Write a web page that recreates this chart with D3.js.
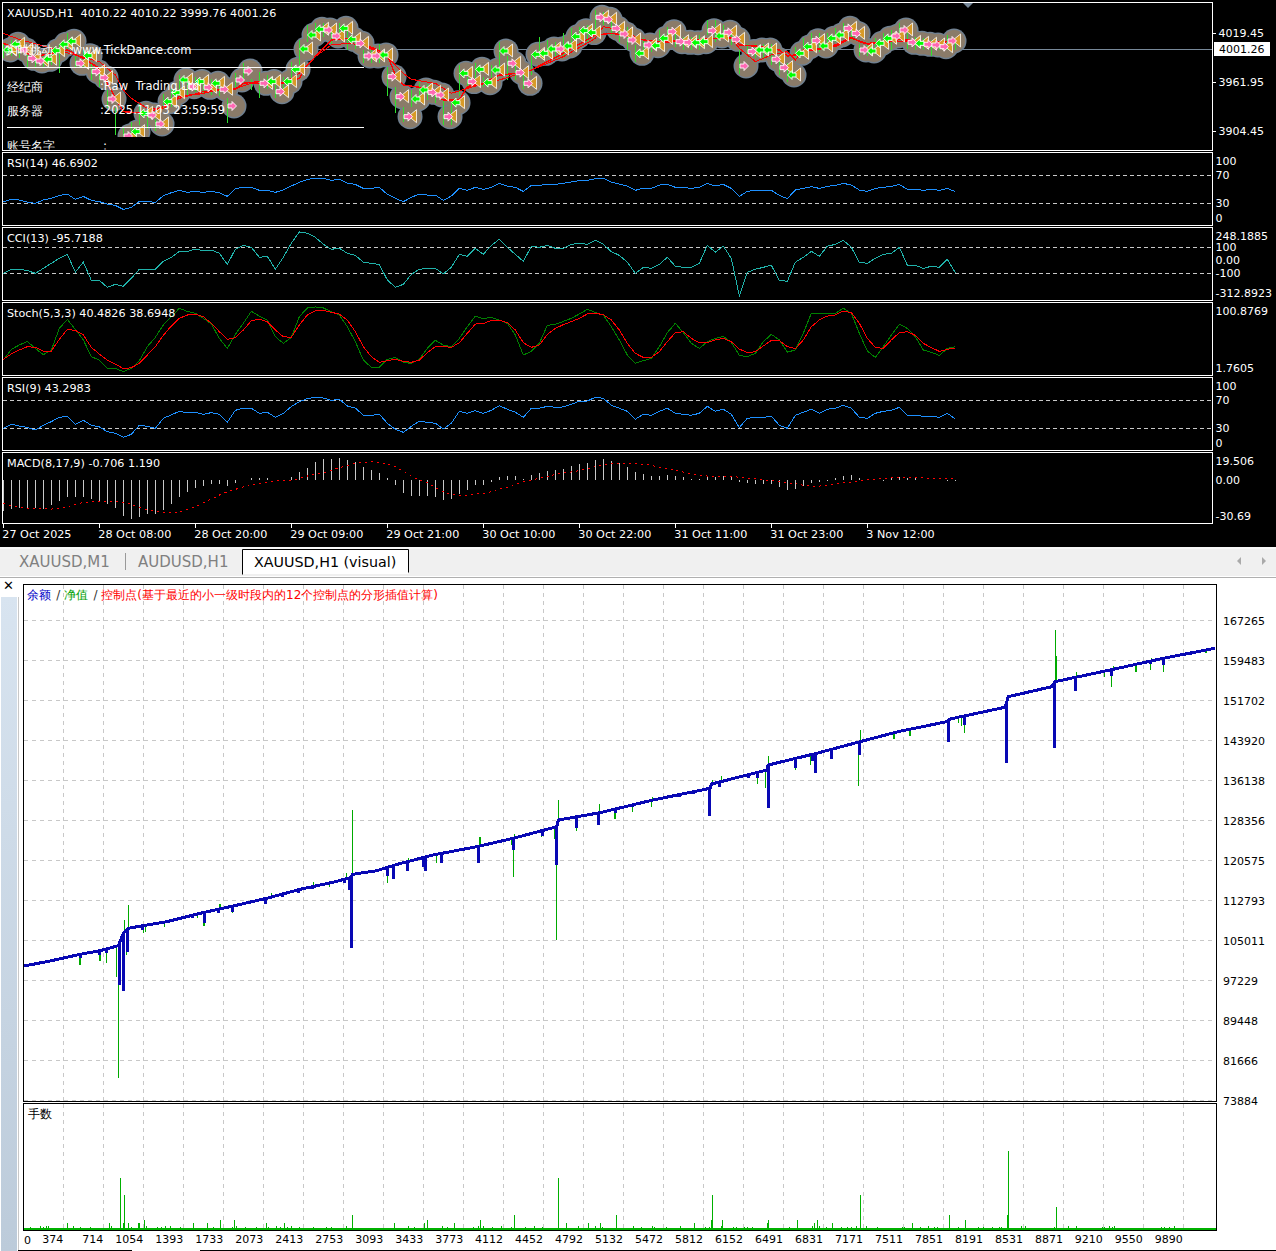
<!DOCTYPE html>
<html><head><meta charset="utf-8">
<script src="https://cdn.jsdelivr.net/npm/d3@7/dist/d3.min.js"></script>
<style>html,body{margin:0;padding:0;background:#fff;overflow:hidden}svg{display:block}
text{font-family:"DejaVu Sans",sans-serif;white-space:pre}</style></head><body>
<svg id="c" width="1276" height="1251"></svg>
<script>
// ---------- upper chart data ----------
const markerType="ggpppggggpgppp-pggppgggpgpgpppp-pgpgggggppggpppgpppggpppggpggggpppgggpggggpppppgpggpppggpgppppggppgggpgggpppgggpppgpp-";
const markerPrice=[3999.5,4006.2,3999.5,3989.7,3986.6,3988.6,3998.7,4006.2,4009.7,3983.9,3992.9,3974.1,3967,3942,null,3898.6,3903.7,3925.2,3923.2,3912.7,3938.9,3949.4,3964.3,3956.5,3962.4,3955.7,3960.4,3953.4,3933.8,3964.3,3974.9,null,3960.4,3962.4,3950.6,3962.4,3976.8,4000.7,4017.1,4023.8,4023,4015.9,4024.9,4012,4007.3,3992.5,3992.5,3993.7,3968.2,3944.7,3921.3,3942,3952.6,3949.8,3946.7,3921.3,3937.7,3972.1,3962.4,3976.8,3961.2,3976,3998.3,3983.9,3972.9,3960.4,3994.4,3995.6,4000.7,4000.7,4004.2,4015.2,4022.2,4019.9,4037.9,4035.5,4024.9,4018.3,4011.3,3995.6,4005.4,4004.6,4013.2,4021,4009.3,4008.5,4008.1,4009.3,4022.2,4015.9,4020.3,4012,3980.7,3997.6,3999.5,3999.5,3988.6,3978.8,3970.2,3995.6,4003.4,4010.5,4004.2,4013.2,4017.1,4024.9,4019,3999.5,3998.3,4007.3,4013.2,4015.9,4023,4008.5,4007.3,4006.2,4005.4,4003.4,4010.1,null];
const noTriangle=[28,29,30,92];
const wickHigh=[4007,4011,4003,3994,3992,3994,4003,4007,4020,3994,3999,3984,3974,3952,3931,3909,3915,3937,3931,3919,3948,3954,3970,3964,3968,3964,3966,3960,3943,3972,3984,3966,3974,3970,3958,3968,3986,4011,4029,4031,4031,4023,4031,4023,4015,3999,3999,4007,3980,3956,3933,3952,3962,3960,3954,3941,3939,3982,3968,3984,3968,3982,4009,3992,3984,3974,3995,4015,4011,4009,4019,4025,4027,4029,4046,4044,4033,4029,4027,4005,4013,4011,4023,4027,4019,4015,4015,4017,4035,4035,4029,4021,4000,4007,4007,4007,4007,3993,3984,4003,4013,4019,4019,4019,4025,4031,4025,4007,4007,4013,4019,4023,4031,4019,4015,4013,4011,4009,4017,4010.22];
const wickLow=[3990,3992,3990,3980,3978,3980,3982,3973,3999,3978,3978,3964,3956,3931,3900,3898,3898,3911,3907,3904,3931,3933,3945,3947,3950,3949,3947,3945,3914,3956,3964,3952,3943,3954,3943,3949,3966,3982,4009,4015,4015,4007,4019,4000,4001,3984,3984,3984,3945,3925,3915,3933,3939,3941,3937,3911,3911,3945,3956,3964,3956,3964,3976,3964,3964,3954,3970,3990,3993,3993,3993,4007,4013,4009,4023,4029,4017,4009,4000,3986,3993,3997,4005,4013,4003,3999,3999,4000,4017,4009,4015,4005,3971,3993,3990,3990,3982,3970,3962,3990,3995,4003,3997,4007,4009,4015,4011,3993,3992,3999,4005,4000,4015,4001,3999,3999,3993,3999,3999,3999.76];
const thickBars=[0,4,8,10,12,13,15,17,18,20,22,25,27,29,30,32,35,37,38,40,41,43,45,48,49,50,53,55,57,58,60,62,65,66,70,74,76,77,80,82,89,91,92,95,97,98,99,100,102,104,106,107,108,110,112,114,116,118];
const thickPrice=[4007.3,3991.7,3999.5,3989.7,3978,3960.4,3927.1,3926,3926,3933,3944.8,3948.7,3953.4,3953.4,3960.4,3962.4,3961.2,3966.3,3981.9,4001.5,4011.3,4013.2,4007.3,3993.7,3970.2,3958.4,3954.5,3940.8,3940.8,3956.5,3960.4,3970,3972.9,3976,3995.6,4017.1,4019,4017.9,4011.3,4009.3,4013.2,4014.4,4005.4,4003.4,3999.5,3992.5,3993.7,3997.6,4000.3,4005.4,4014.4,4009.3,4006.6,4007.3,4012,4010.5,4007.3,4009.3];
const thinBars=[0,2,6,12,14,15,16,18,20,22,25,29,31,35,37,39,41,43,45,48,50,51,54,56,58,60,62,66,70,74,75,76,78,80,83,88,91,92,94,96,98,99,100,104,106,108,110,114,118];
const thinPrice=[4019,4012,4001.5,3985.8,3970.2,3952.6,3942.8,3931,3931,3942.8,3950.6,3954.5,3960.4,3960.4,3972.1,3991.7,4005.4,4007.3,4005.4,3991.7,3972.1,3965.1,3960.4,3948.7,3954.5,3959.6,3964.3,3976,3991.7,4013.2,4026.9,4024.9,4019,4011.3,4008.1,4013.2,4013.2,4001.5,3985.8,3993.7,3997.6,3987.8,3999.5,4003.4,4013.2,4007.3,4009.3,4009.3,4009.3];
const rsi14=[32.3,35.6,34.7,31.8,29.9,34.7,37.1,41.3,43.2,35.6,39.9,34.2,32.3,29,27,21.3,24.2,32.8,32.8,31.3,40.9,45.1,48.5,45.6,47,45.6,47,45.1,39.9,50.9,52.8,52.8,48.5,48.5,45.6,49,54.7,59.9,64.2,65.6,65.6,62.8,64.2,59,57,51.3,51.3,52.8,42.8,37.1,32.3,38.5,43.2,41.8,41.8,34.2,40.4,51.3,48.5,52.8,
49.9,52.8,58.5,54.7,52.8,47,55.6,55.6,57,57,58.5,60.4,62.3,62.8,65.1,65.6,60.4,57.5,54.7,48.5,51.8,51.3,56.1,57,52.8,52.8,51.3,52.8,58.5,54.7,57,51.3,39.9,47,48.5,48.5,48.5,41.3,36.6,49,51.3,53.7,51.3,54.2,55.6,58.5,56.1,49,47,51.3,52.8,54.2,57,49.9,49.9,48.5,49.9,48.5,51.3,46.69];
const cci13=[-100,-69,-69,-79,-100,-62,-23,15,46,-90,-15,-154,-154,-208,-185,-200,-138,-69,-69,-69,-8,23,69,69,85,74,79,54,-31,85,115,100,23,31,-69,23,131,218,208,177,123,85,92,54,38,-15,-23,-33,-151,-208,-185,-108,-69,-62,-62,-105,-54,46,31,92,
46,115,162,100,46,-8,108,100,115,92,92,123,131,123,154,123,67,38,-15,-100,-54,-62,-31,23,-46,-54,-54,-23,115,62,108,15,-274,-92,-69,-54,-38,-154,-162,-15,23,69,31,108,123,154,100,-15,-23,15,46,54,100,-38,-38,-62,-46,-54,8,-95.72];
const stochMain=[22.1,37,43,48,38.3,29.5,36,66.1,78.6,64.7,50,26.8,22.1,10.6,10.6,6,10.6,21.2,40.7,53.6,70.8,82.3,93.9,89.7,87,80,72.1,52.2,38.3,57.8,73.1,89.7,83.2,77.7,54.5,45.3,53.6,82.3,94.4,95.8,94.4,89.3,84.6,68.4,47.6,22.1,12,12,23.1,25.8,18.9,17.5,23.1,38.3,49.4,43,40.7,52.2,68.4,83.2,
79.5,81.4,77.7,73.1,56.9,29.1,34.2,45.3,70.3,71.7,75.8,80,86,92.5,88.3,84.6,68.4,50,29.1,17.5,21.2,24.4,40.7,60.1,73.1,60.1,45.3,38.3,47.6,52.2,55,46.7,28.6,26.8,31.4,47.6,57.8,50,33.2,36,59.2,87,87,87,87,93.9,87,59.2,34.6,25.8,40.7,56.9,71.7,66.1,54.5,36,32.8,28.6,38.3,40.48];
const stochSignal=[23.1,30.5,36,40.7,39.7,34.6,34.6,50.8,64.7,63.3,56.9,39.7,30.5,22.1,16.6,10.1,11.5,17.5,29.1,40.7,56.4,69.4,80,84.6,86,82.3,73.1,61.5,50.8,53.2,63.8,76.8,78.6,75.4,63.8,54.5,53.6,70.8,84.6,90.7,91.1,88.3,86,77.7,61.5,40.7,26.8,18.9,21.2,23.1,20.3,18.9,22.1,32.3,40.7,41.1,39.7,46.2,59.2,72.1,
72.6,77.2,77.7,74,63.8,46.2,39.7,43,57.8,66.1,71.2,75.4,80,86,87,85.1,77.7,63.8,45.3,31.4,25.8,25.8,33.7,47.6,60.1,61.5,52.2,46.2,46.2,50,52.2,47.6,37.4,32.3,33.7,41.6,49.4,49,40.7,37.9,50,68.4,77.7,83.2,84.6,90.2,87.9,73.1,52.2,39.7,38.3,50,60.1,61.5,56.4,45.3,39.3,34.2,37,38.69];
const rsi9=[30,35.7,33.3,31.4,27.6,34.3,39.5,45.7,47.2,35.7,41.4,34.3,31.9,25.2,22.9,17.2,21.4,34.3,32.9,30,44.3,49.1,54.3,51.9,52.9,50,52.4,50,38.6,55.7,58.6,58.6,51.4,52.9,45.7,51.4,61,68.1,72.4,74.3,73.3,70,71.4,61.9,59,48.6,48.6,50,37.2,28.6,24.3,32.9,40,38.6,37.2,29,37.2,54.3,51.4,55.2,
51.4,55.7,62.4,57.2,52.9,45.7,58.6,58.6,61.4,60,60.5,64.3,68.6,69,74.3,72.9,62.9,58.6,54.3,42.9,50,48.6,54.3,58.6,51.4,50,48.6,51.4,61.4,54.3,57.2,50,31,44.3,45.7,45.7,47.2,34.3,30,48.6,52.9,57.2,51.4,57.2,58.6,62.9,58.6,45.7,44.3,51.4,54.3,55.7,60,48.6,48.6,47.2,47.2,45.7,51.4,43.3];
const macdHist=[-22.2,-20.7,-19.8,-19.8,-20.2,-20.7,-17.8,-14.9,-12,-12,-12,-13.5,-15.4,-17.4,-20.2,-25.5,-27.7,-26.5,-24.6,-24.6,-21.4,-16.9,-12,-8.7,-5.8,-3.9,-2.9,-2.9,-4.1,-1.9,0,1.7,1.9,1.9,0,0,2.4,6,9.2,13,15.4,15.4,15.9,14.5,13,9.6,7.5,5.1,1.9,-3.4,-9.2,-11.1,-11.1,-11.1,-12,-14,-13.5,-10.1,-7,-3.4,
-3.4,-1.2,2.4,2.9,2.9,1,3.9,5.3,6.7,7.5,8.2,10.1,11.8,12.5,14.7,15.4,14,12.5,9.6,5.8,4.6,3.1,3.1,3.9,3.4,2.7,1,1,2.9,2.4,2.9,2.7,-1,-1.9,-2.9,-2.4,-2.7,-4.8,-7,-6.3,-4.1,-1.9,-1,-0.5,1.9,3.4,3.9,1.9,1,0.2,-0.5,2.4,2.4,1.4,2.4,0.5,0,0.2,-0.5,-0.706];
const macdSignal=[-16.6,-18.3,-19.3,-20,-20.2,-20.2,-20.7,-20.2,-19,-17.4,-15.9,-15.4,-15.2,-15.2,-15.4,-15.7,-17.4,-19.3,-21.2,-22.2,-23.1,-23.1,-22.7,-21.2,-19,-16.1,-13.5,-10.6,-8.2,-6.5,-4.8,-3.6,-2.4,-1.2,-0.2,0,0.2,1.2,3.1,4.3,5.5,7.2,9.2,10.6,12.3,13,13.5,12.8,11.6,9.9,6.7,2.9,0,-1.4,-5.3,-8.2,-10.1,-10.8,-10.6,-9.9,
-9.4,-8.2,-6,-5.3,-2.7,-1,0.2,1.4,2.9,4.3,5.5,6,7,8.2,9.9,10.8,12,12.3,12.3,12.3,11.6,10.8,9.6,8.4,7.2,6,4.6,3.9,3.1,2.9,3.1,2.9,2.2,1.7,1,0.5,-0.2,-1,-1.7,-2.4,-3.6,-4.3,-4.1,-3.6,-2.9,-1.9,-1.4,0,0.5,1,1.2,1.9,2.2,2.2,2.2,1.7,1.4,1.4,1.4,1.19];
const timeTicks=[0,12,24,36,48,60,72,84,96,108];
const timeLabels=["27 Oct 2025","28 Oct 08:00","28 Oct 20:00","29 Oct 09:00","29 Oct 21:00","30 Oct 10:00","30 Oct 22:00","31 Oct 11:00","31 Oct 23:00","3 Nov 12:00"];
const priceTicks=[4019.45,3961.95,3904.45];
const rsiTicks=[100,70,30,0];
const cciTicks=[248.1885,100,0,-100,-312.8923];
const stochTicks=[100.8769,1.7605];
const macdTicks=[19.506,0,-30.69];
// ---------- lower chart data ----------
const balanceDeal=[40,261,516,686,842,881,924,1051,1253,1537,1817,2103,2386,2666,2811,2834,3038,3222,3516,3888,4199,4568,4582,4936,5387,5871,5885,6353,6366,6778,7146,7469,7883,7911,8378,8407,8775,8803,9299,9724,10163];
const balanceValue=[99951,100923,102227,102927,103900,106176,107285,107791,108569,110203,111624,113122,114873,116234,117129,117791,118491,119795,121546,123160,124795,127052,128355,129775,132246,134522,135359,138082,139055,141331,143588,145534,147479,148005,150281,152343,154288,155261,157674,159814,161759];
const blueDeal=[850,884,921,680,743,516,1051,1570,1697,1814,1468,2094,2241,2375,2494,2768,2811,2825,3131,3179,3298,3440,3457,3590,3907,4199,4449,4570,4738,4925,5064,5214,5616,5729,5871,5956,6197,6276,6366,6602,6744,6772,6902,7140,7896,8033,8395,8798,8979,9285,9617,9724,9957];
const blueValue=[96254,95145,102733,102091,102480,101507,106954,108316,110262,110515,109289,112013,113433,114211,114873,116040,114736,103511,117460,116935,118491,119269,118491,119931,119931,122518,125242,119600,126857,127441,129717,130943,132830,133413,129133,134834,136468,136526,130748,138472,139892,137440,140164,141001,143588,146837,139503,142304,153511,156429,158646,158510,160456];
const greenDeal=[842,828,913,893,927,2831,516,686,743,1054,1071,1233,1516,1570,1706,1814,2145,2635,2499,2783,3131,3307,3548,3916,4199,4207,4185,4440,4551,4565,4582,4568,4738,4930,5064,5211,5375,5384,5891,5970,6273,6344,6366,6596,6727,7132,7149,7435,7571,7982,8011,8033,8387,8809,8812,8988,9223,9282,9299,9492,9617,9724,9625,10086];
const greenValue=[78103,97869,102091,108900,111818,130300,100145,100923,100593,106371,106624,107597,109231,107791,112013,110262,114094,115262,116234,117986,116157,120904,119931,125106,117324,125573,123491,124989,124659,105009,132246,118297,126215,131409,128491,129970,130943,132771,136137,136915,135301,134639,140806,138082,139055,135028,145864,144211,144756,147168,146643,145339,151370,165319,160261,157207,156234,154288,158316,157207,157537,157207,159931,160903];
const lotDeal=[93,172,200,225,242,408,460,519,603,759,776,856,884,891,925,946,1005,1015,1064,1081,1172,1206,1241,1283,1366,1480,1598,1647,1709,1810,1827,1845,1921,2015,2101,2115,2178,2216,2254,2278,2313,2379,2500,2611,2646,2781,2830,3187,3305,3357,3440,3468,3596,3638,3697,3853,3902,3919,3943,4020,4096,4183,4207,4301,4377,4446,4578,4651,4745,4838,4894,4932,4949,5074,5220,5284,5381,5398,5499,5617,5738,5825,5859,5880,5891,5964,5977,6064,6095,6161,6182,6231,6359,6366,6539,6612,6741,6751,6782,6800,6855,6911,6987,7039,7070,7115,7150,7199,7289,7500,7521,7584,7653,7726,7774,7802,7906,7983,8042,8153,8194,8264,8329,8347,8399,8406,8513,8551,8798,8808,8916,8985,9207,9221,9266,9290,9308,9707,9727,9776,9811];
const lotValue=[.07,.1,.07,.1,.1,.2,.1,.05,.05,.2,.1,2,.2,1.33,.2,.05,.2,.2,.33,.1,.05,.05,.1,.1,.05,.2,.2,.05,.33,.05,.33,.1,.05,.05,.2,.05,.1,.07,.2,.07,.1,.05,.05,.05,.05,.1,.53,.2,.1,.05,.2,.33,.1,.05,.2,.05,.1,.33,.1,.05,.1,.05,.53,.05,.1,.05,2,.2,.1,.2,.1,.2,.07,.53,.1,.05,.1,.05,.05,.1,.2,.05,.05,.33,1.33,.1,.33,.05,.05,.05,.05,.05,.2,.33,.05,.33,.1,.2,.33,.1,.05,.2,.05,.05,.05,.1,1.33,.1,.05,.05,.05,.2,.05,.1,.05,.05,.53,.05,.33,.05,.05,.05,.05,.05,.53,3.09,.1,.1,.05,.85,.1,.1,.05,.05,.1,.05,.1,.05,.05,.05,.1];
const dealTicks=[374,714,1054,1393,1733,2073,2413,2753,3093,3433,3773,4112,4452,4792,5132,5472,5812,6152,6491,6831,7171,7511,7851,8191,8531,8871,9210,9550,9890];
const valueTicks=[167265,159483,151702,143920,136138,128356,120575,112793,105011,97229,89448,81666,73884];
const tabLabels=["XAUUSD,M1","AUDUSD,H1","XAUUSD,H1 (visual)"];

const svg=d3.select("#c");
const cjk='"Noto Sans CJK SC",sans-serif';
svg.append("rect").attr("width",1276).attr("height",1251).attr("fill","#fff");
svg.append("rect").attr("width",1276).attr("height",547).attr("fill","#000");

const xBar=d3.scaleLinear().domain([0,119]).range([3.33,955.33]);
const L=2.5,R=1212.5;
function frame(t,b){svg.append("rect").attr("x",L).attr("y",t).attr("width",R-L).attr("height",b-t).attr("fill","none").attr("stroke","#fff").attr("shape-rendering","crispEdges");}
function sideAxis(y,ticks,fmt,t,b,size){
  const g=svg.append("g").attr("transform",`translate(${R},0)`).call(d3.axisRight(y).tickValues(ticks).tickSize(size).tickPadding(3).tickFormat(fmt));
  g.select(".domain").remove();
  g.selectAll(".tick").attr("transform",d=>`translate(0,${Math.max(t+8,Math.min(b-7,y(d)))})`);
  g.selectAll("text").attr("fill","#fff").attr("font-size",11).attr("font-family","DejaVu Sans").attr("dy","0.36em");
  g.selectAll("line").attr("stroke","#fff").attr("shape-rendering","crispEdges");
}
function levels(y,vals){svg.append("g").selectAll("line").data(vals).join("line").attr("x1",L).attr("x2",R).attr("y1",d=>Math.round(y(d))+.5).attr("y2",d=>Math.round(y(d))+.5).attr("stroke","#c8c8c8").attr("stroke-dasharray","4 3").attr("shape-rendering","crispEdges");}
function path(vals,y,color,w,dash){const ln=d3.line().x((d,i)=>xBar(i)).y(d=>y(d));const p=svg.append("path").attr("d",ln(vals)).attr("fill","none").attr("stroke",color).attr("stroke-width",w||1).attr("shape-rendering","crispEdges");if(dash)p.attr("stroke-dasharray",dash);return p;}
function title(s,y){svg.append("text").attr("x",7).attr("y",y).attr("fill","#fff").attr("font-size",11.2).text(s);}

// main price panel
const yP=d3.scaleLinear().domain([4019.45,3904.45]).range([33,131]);
const defs=svg.append("defs");
defs.append("clipPath").attr("id","mainClip").append("rect").attr("x",3).attr("y",3).attr("width",1209).attr("height",147);
const lastPrice=4001.26;
svg.append("line").attr("x1",L).attr("x2",R).attr("y1",Math.round(yP(lastPrice))+.5).attr("y2",Math.round(yP(lastPrice))+.5).attr("stroke","#778899").attr("shape-rendering","crispEdges");
const main=svg.append("g").attr("clip-path","url(#mainClip)");
const idx=d3.range(120).filter(i=>markerPrice[i]!=null);
const mx=i=>xBar(i)+4.7;
main.append("g").selectAll("circle").data(idx).join("circle").attr("cx",i=>mx(i)+2).attr("cy",i=>yP(markerPrice[i])).attr("r",12.5).attr("fill","#708090");
main.append("g").selectAll("circle").data(idx).join("circle").attr("cx",i=>mx(i)+2).attr("cy",i=>yP(markerPrice[i])).attr("r",11).attr("fill","#8a7b69");
main.append("g").selectAll("line").data(d3.range(120)).join("line").attr("x1",i=>Math.round(xBar(i))+.5).attr("x2",i=>Math.round(xBar(i))+.5).attr("y1",i=>yP(wickHigh[i])).attr("y2",i=>yP(wickLow[i])).attr("stroke","#2ee02e").attr("shape-rendering","crispEdges");
const lnT=d3.line().x(d=>xBar(d[0])).y(d=>yP(d[1]));
main.append("path").attr("d",lnT(thinBars.map((b,i)=>[b,thinPrice[i]]))).attr("fill","none").attr("stroke","#f00").attr("stroke-width",1).attr("shape-rendering","crispEdges");
main.append("path").attr("d",lnT(thickBars.map((b,i)=>[b,thickPrice[i]]))).attr("fill","none").attr("stroke","#f00").attr("stroke-width",1.4).attr("shape-rendering","crispEdges");
const tri=main.append("g");
idx.filter(i=>!noTriangle.includes(i)).forEach(i=>{const cx=mx(i)+5,cy=yP(markerPrice[i])-0.5;
  tri.append("path").attr("d",`M${cx-4.5},${cy}L${cx+3.5},${cy-6.5}L${cx+3.5},${cy+6.5}Z`).attr("fill","#d89a28").attr("stroke","#fff").attr("stroke-width",.8);});
const arrows=main.append("g");
idx.forEach(i=>{const cx=mx(i),cy=yP(markerPrice[i]),g=markerType[i]==="g",s=g?-1:1;
  const d=`M${cx+s*4.5},${cy}L${cx},${cy-4.5}L${cx},${cy-2}L${cx-s*4},${cy-2}L${cx-s*4},${cy+2}L${cx},${cy+2}L${cx},${cy+4.5}Z`;
  arrows.append("path").attr("d",d).attr("fill",g?"#00ff00":"#ff69b4").attr("stroke","#fff").attr("stroke-width",.9);});
svg.append("rect").attr("x",3).attr("y",137).attr("width",362).attr("height",13).attr("fill","#000");
svg.append("g").selectAll("line").data([67.5,127.5]).join("line").attr("x1",7).attr("x2",364).attr("y1",d=>d).attr("y2",d=>d).attr("stroke","#fff").attr("shape-rendering","crispEdges");
[["实时跳动",5,54],["经纪商",7,91],["服务器",7,115]].forEach(d=>svg.append("text").attr("x",d[1]).attr("y",d[2]).attr("fill","#fff").attr("font-size",12).attr("font-family",cjk).text(d[0]));
svg.append("clipPath").attr("id","accClip").append("rect").attr("x",0).attr("y",130).attr("width",200).attr("height",19.5);
const acc=svg.append("g").attr("clip-path","url(#accClip)");
acc.append("text").attr("x",7).attr("y",150).attr("fill","#fff").attr("font-size",12).attr("font-family",cjk).text("账号名字");
acc.append("text").attr("x",103).attr("y",150).attr("fill","#fff").attr("font-size",12).text(":");
[[":www.TickDance.com",69,54],[":Raw  Trading Ltd",100,90],[":2025.11.03 23:59:59",100,114]].forEach(d=>svg.append("text").attr("x",d[1]).attr("y",d[2]).attr("fill","#fff").attr("font-size",11.5).text(d[0]));
svg.append("path").attr("d","M963,3L973,3L968,8Z").attr("fill","#778899");
title("XAUUSD,H1  4010.22 4010.22 3999.76 4001.26",17);
frame(2.5,150.5);
sideAxis(yP,priceTicks,d=>d.toFixed(2),-100,1000,3);
svg.append("rect").attr("x",1214).attr("y",42).attr("width",56).attr("height",14).attr("fill","#fff");
svg.append("text").attr("x",1219).attr("y",53).attr("fill","#000").attr("font-size",11).text(lastPrice.toFixed(2));

// RSI14
const yR=d3.scaleLinear().domain([0,100]).range([224.3,154.3]);
levels(yR,[70,30]);path(rsi14,yR,"#1e90ff",1);
title("RSI(14) 46.6902",167);frame(152.5,225.5);
sideAxis(yR,rsiTicks,d=>String(d),153,225,0);
// CCI
const yC=d3.scaleLinear().domain([100,-100]).range([247.3,273.3]);
levels(yC,[100,-100]);path(cci13,yC,"#20b2aa",1);
title("CCI(13) -95.7188",242);frame(227.5,300.5);
sideAxis(yC,cciTicks,d=>(d===0?"0.00":(Number.isInteger(d)?String(d):d.toFixed(4))),228,300,0);
// Stoch
const yS=d3.scaleLinear().domain([100.8769,1.7605]).range([303.3,374.7]);
path(stochMain,yS,"#008000",1);path(stochSignal,yS,"#f00",1);
title("Stoch(5,3,3) 40.4826 38.6948",317);frame(302.5,375.5);
sideAxis(yS,stochTicks,d=>d.toFixed(4),303,375,0);
// RSI9
const yR9=d3.scaleLinear().domain([0,100]).range([449.3,379.3]);
levels(yR9,[70,30]);path(rsi9,yR9,"#1e90ff",1);
title("RSI(9) 43.2983",392);frame(377.5,450.5);
sideAxis(yR9,rsiTicks,d=>String(d),378,450,0);
// MACD
const yM=d3.scaleLinear().domain([19.506,-30.69]).range([453.3,522.9]);
svg.append("g").selectAll("line").data(macdHist).join("line").attr("x1",(d,i)=>Math.round(xBar(i))+.5).attr("x2",(d,i)=>Math.round(xBar(i))+.5).attr("y1",yM(0)).attr("y2",d=>yM(d)).attr("stroke","#c8c8c8").attr("shape-rendering","crispEdges");
path(macdSignal,yM,"#f00",1,"2 4");
title("MACD(8,17,9) -0.706 1.190",467);frame(452.5,523.5);
sideAxis(yM,macdTicks,d=>d===0?"0.00":String(d),453,523,0);
const tg=svg.append("g").attr("transform","translate(0,523.5)").call(d3.axisBottom(xBar).tickValues(timeTicks).tickSize(4).tickPadding(3).tickFormat((d,i)=>timeLabels[i]));
tg.select(".domain").remove();
tg.selectAll("line").attr("stroke","#fff").attr("shape-rendering","crispEdges");
tg.selectAll("text").attr("fill","#fff").attr("font-size",11.2).attr("font-family","DejaVu Sans").attr("text-anchor","start").attr("dx",-1.5);

// ---------- tabs ----------
svg.append("rect").attr("y",547).attr("width",1276).attr("height",29).attr("fill","#f0f0f0");
svg.append("line").attr("x1",0).attr("x2",1276).attr("y1",577.5).attr("y2",577.5).attr("stroke","#b0b0b0");
svg.append("line").attr("x1",0).attr("x2",1276).attr("y1",548).attr("y2",548).attr("stroke","#fff");
svg.append("rect").attr("x",243).attr("y",550).attr("width",165).attr("height",24).attr("fill","#fff");
svg.append("path").attr("d","M242.5,574.5V549.5H408.5V572.5").attr("fill","none").attr("stroke","#000");
svg.append("line").attr("x1",125.5).attr("x2",125.5).attr("y1",553).attr("y2",570).attr("stroke","#999");
[[19,"#808080",15],[138,"#808080",15],[254,"#000",14.3]].forEach((d,i)=>svg.append("text").attr("x",d[0]).attr("y",567).attr("fill",d[1]).attr("font-size",d[2]).attr("font-family","Open Sans").text(tabLabels[i]));
svg.append("path").attr("d","M1241,557V565L1237,561Z").attr("fill","#aaa");
svg.append("path").attr("d","M1262,557V565L1266,561Z").attr("fill","#aaa");
svg.append("text").attr("x",3).attr("y",590).attr("font-size",13).attr("fill","#000").text("✕");
const sb=defs.append("linearGradient").attr("id","side").attr("x2",0).attr("y2",1);
sb.append("stop").attr("offset",0).attr("stop-color","#d8e4f0");sb.append("stop").attr("offset",1).attr("stop-color","#bccbda");
svg.append("rect").attr("x",1).attr("y",597).attr("width",16).attr("height",654).attr("fill","url(#side)");
svg.append("line").attr("x1",18.5).attr("x2",18.5).attr("y1",597).attr("y2",1251).attr("stroke","#c8c8c8");

// ---------- equity ----------
const xD=d3.scaleLinear().domain([374,9890]).range([63.3,1182.8]);
const yE=d3.scaleLinear().domain([167265,73884]).range([620,1100]);
const yL=d3.scaleLinear().domain([0,5]).range([1228.3,1103.3]);
const gridStyle=s=>s.attr("stroke","#c8c8c8").attr("stroke-dasharray","4 4").attr("shape-rendering","crispEdges");
gridStyle(svg.append("g").selectAll("line").data(dealTicks).join("line").attr("x1",d=>Math.round(xD(d))+.5).attr("x2",d=>Math.round(xD(d))+.5).attr("y1",585).attr("y2",1101));
gridStyle(svg.append("g").selectAll("line").data(dealTicks).join("line").attr("x1",d=>Math.round(xD(d))+.5).attr("x2",d=>Math.round(xD(d))+.5).attr("y1",1104).attr("y2",1229));
gridStyle(svg.append("g").selectAll("line").data(valueTicks).join("line").attr("x1",24).attr("x2",1217).attr("y1",d=>Math.round(yE(d))+.5).attr("y2",d=>Math.round(yE(d))+.5));
const balAt=d3.scaleLinear().domain(balanceDeal).range(balanceValue);
svg.append("g").selectAll("line").data(greenDeal).join("line").attr("x1",d=>xD(d)).attr("x2",d=>xD(d)).attr("y1",d=>yE(balAt(d))).attr("y2",(d,i)=>yE(greenValue[i])).attr("stroke","#00aa00").attr("stroke-width",1.4).attr("shape-rendering","crispEdges");
svg.append("g").selectAll("line").data(blueDeal).join("line").attr("x1",d=>xD(d)).attr("x2",d=>xD(d)).attr("y1",d=>yE(balAt(d))).attr("y2",(d,i)=>yE(blueValue[i])).attr("stroke","#0808b4").attr("stroke-width",3).attr("shape-rendering","crispEdges");
svg.append("path").attr("d",d3.line().x((d,i)=>xD(balanceDeal[i])).y(d=>yE(d))(balanceValue)).attr("fill","none").attr("stroke","#0808b4").attr("stroke-width",3).attr("shape-rendering","crispEdges");
svg.append("rect").attr("x",23.5).attr("y",584.5).attr("width",1193).attr("height",517).attr("fill","none").attr("stroke","#000");
const ya=svg.append("g").attr("transform","translate(1217,0)").call(d3.axisRight(yE).tickValues(valueTicks).tickSize(0).tickPadding(6).tickFormat(d3.format("d")));
ya.select(".domain").remove();
ya.selectAll("text").attr("fill","#000").attr("font-size",11).attr("font-family","DejaVu Sans").attr("dy","0.45em");
const head=svg.append("text").attr("x",27).attr("y",599).attr("font-size",12).attr("font-family",cjk);
head.append("tspan").attr("fill","#0000c8").text("余额");
head.append("tspan").attr("fill","#333").attr("dx",1.5).text(" / ");
head.append("tspan").attr("fill","#00a000").attr("dx",0).text("净值");
head.append("tspan").attr("fill","#333").attr("dx",1.5).text(" / ");
head.append("tspan").attr("fill","#f00").text("控制点(基于最近的小一级时段内的12个控制点的分形插值计算)");

// ---------- lots ----------
svg.append("g").selectAll("line").data(lotDeal).join("line").attr("x1",d=>Math.round(xD(d))+.5).attr("x2",d=>Math.round(xD(d))+.5).attr("y1",yL(0)).attr("y2",(d,i)=>yL(lotValue[i])).attr("stroke","#00b000").attr("shape-rendering","crispEdges");
svg.append("line").attr("x1",24).attr("x2",1216).attr("y1",1228.5).attr("y2",1228.5).attr("stroke","#00b000").attr("stroke-width",2).attr("shape-rendering","crispEdges");
svg.append("rect").attr("x",23.5).attr("y",1103.5).attr("width",1193).attr("height",127).attr("fill","none").attr("stroke","#000");
svg.append("text").attr("x",28).attr("y",1118).attr("font-size",12).attr("font-family",cjk).attr("fill","#000").text("手数");
const xa=svg.append("g").attr("transform","translate(0,1231)").call(d3.axisBottom(xD).tickValues(dealTicks).tickSize(0).tickPadding(4).tickFormat(d3.format("d")));
xa.select(".domain").remove();
xa.selectAll("text").attr("fill","#000").attr("font-size",11).attr("font-family","DejaVu Sans").attr("text-anchor","end").attr("dx",-0.5);
svg.append("text").attr("x",24).attr("y",1244).attr("font-size",11).attr("fill","#000").text("0");
svg.append("line").attr("x1",18).attr("x2",132).attr("y1",1250.5).attr("y2",1250.5).attr("stroke","#000");
svg.append("line").attr("x1",200).attr("x2",1276).attr("y1",1250.5).attr("y2",1250.5).attr("stroke","#000");
</script></body></html>
